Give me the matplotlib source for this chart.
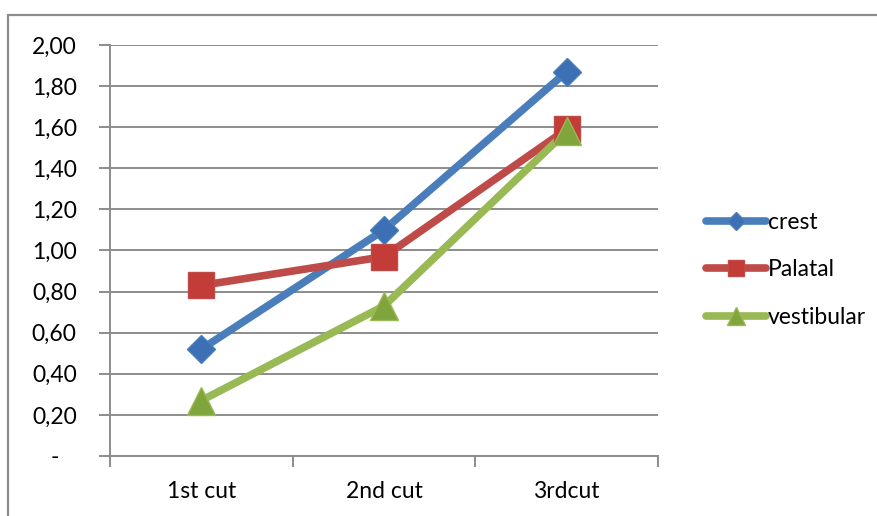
import matplotlib.pyplot as plt
from matplotlib.patches import Rectangle
from matplotlib.ticker import FuncFormatter, FixedLocator
from matplotlib.lines import Line2D

cuts = ['1st cut', '2nd cut', '3rdcut']
crest = [0.52, 1.10, 1.87]
palatal = [0.83, 0.97, 1.59]
vestibular = [0.27, 0.73, 1.58]

series = [
    ('crest', crest, '#4A7EBB', '#3C6FB3', 'D', 14),
    ('Palatal', palatal, '#BE4B48', '#C43C38', 's', 19),
    ('vestibular', vestibular, '#98B954', '#7FA53C', '^', 20),
]

plt.rcParams['font.family'] = ['Lato', 'DejaVu Sans']
fs = 16.5

fig = plt.figure(figsize=(8.78, 5.16), dpi=100)
ax = fig.add_axes([0.1253, 0.1163, 0.6241, 0.7965])

xs = list(range(1, len(cuts) + 1))
for name, vals, lc, mc, mk, ms in series:
    ax.plot(xs, vals, color=lc, lw=5.5, solid_capstyle='round', zorder=3)
    ax.plot(xs, vals, ls='none', marker=mk, ms=ms, mfc=mc, mec=lc,
            mew=1, zorder=4)

ax.set_xlim(0.5, 3.5)
ax.set_ylim(0, 2.0)
ax.yaxis.set_major_locator(FixedLocator([i * 0.2 for i in range(11)]))
ax.yaxis.set_major_formatter(FuncFormatter(
    lambda v, p: '-   ' if abs(v) < 1e-9 else f'{v:.2f}'.replace('.', ',')))
ax.yaxis.grid(True, color='#8C8C8C', lw=1.4)
ax.set_axisbelow(True)

ax.set_xticks([0.5, 1.5, 2.5, 3.5])
ax.set_xticklabels([])
ax.set_xticks(xs, minor=True)
ax.set_xticklabels(cuts, minor=True)
ax.tick_params(axis='x', which='minor', length=0, pad=18, labelsize=fs)
ax.tick_params(axis='x', which='major', length=8, width=1.4, color='#8C8C8C')
ax.tick_params(axis='y', length=8, width=1.4, color='#8C8C8C', pad=16,
               labelsize=fs)

for side in ['top', 'right']:
    ax.spines[side].set_visible(False)
for side in ['left', 'bottom']:
    ax.spines[side].set_color('#8C8C8C')
    ax.spines[side].set_linewidth(1.4)

handles = [Line2D([], [], color=lc, lw=5.5, solid_capstyle='round',
                  marker=mk, ms=ms * 0.62, mfc=mc, mec=lc)
           for name, vals, lc, mc, mk, ms in series]
fig.legend(handles, [s[0] for s in series], loc='center left',
           bbox_to_anchor=(0.781, 0.477), frameon=False, fontsize=fs,
           handlelength=2.6, handletextpad=0.1, labelspacing=1.17)

# outer chart border
fig.patches.append(Rectangle((8 / 878, -0.1), 1.2, 1.1 - 15 / 516,
                             transform=fig.transFigure, fill=False,
                             ec='#8C8C8C', lw=1.6))

fig.savefig('out.png', dpi=100)
